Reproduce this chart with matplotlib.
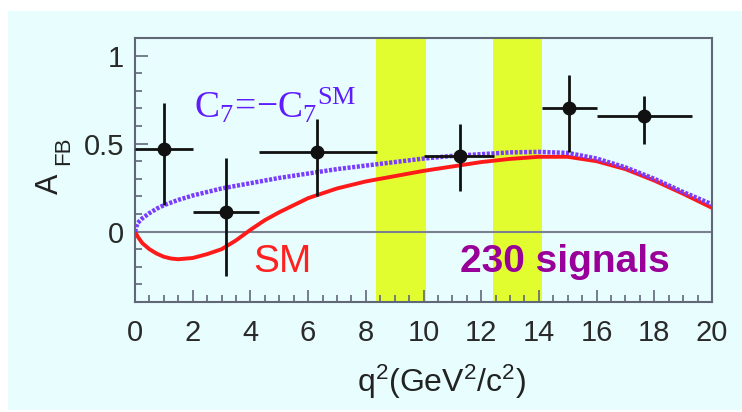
import numpy as np
import matplotlib.pyplot as plt
from matplotlib.patches import Rectangle
from matplotlib.ticker import MultipleLocator

plt.rcParams['mathtext.fontset'] = 'custom'
plt.rcParams['mathtext.rm'] = 'Liberation Serif'
plt.rcParams['mathtext.it'] = 'Liberation Serif:italic'
plt.rcParams['mathtext.sf'] = 'Liberation Sans'
plt.rcParams['font.family'] = ['Liberation Sans', 'DejaVu Sans']

# measured points
q2 = [1.0, 3.15, 6.3, 11.25, 15.05, 17.65]
q2_lo = [0.0, 2.0, 4.3, 10.0, 14.1, 16.0]
q2_hi = [2.0, 4.3, 8.4, 12.45, 16.0, 19.3]
afb = [0.47, 0.11, 0.45, 0.43, 0.70, 0.655]
afb_hi = [0.73, 0.42, 0.64, 0.61, 0.89, 0.77]
afb_lo = [0.15, -0.25, 0.20, 0.23, 0.45, 0.50]

# SM curve
sm_q2 = [0, 0.1, 0.25, 0.5, 0.75, 1, 1.25, 1.5, 2, 2.5, 3, 3.5, 4, 4.5, 5, 5.5, 6, 7, 8,
         9, 10, 11, 12, 13, 14, 15, 16, 17, 18, 19, 20]
sm_afb = [0, -0.03, -0.065, -0.1, -0.125, -0.143, -0.153, -0.157, -0.15, -0.128, -0.1,
          -0.05, 0.01, 0.065, 0.11, 0.15, 0.19, 0.245, 0.285, 0.315, 0.345, 0.37, 0.395,
          0.413, 0.425, 0.425, 0.40, 0.355, 0.29, 0.215, 0.135]

# C7 = -C7(SM) curve
c7_q2 = [0, 0.05, 0.1, 0.25, 0.5, 0.75, 1, 1.5, 2, 3, 4, 5, 6, 7, 8, 9, 10, 11, 12, 13,
         14, 15, 16, 17, 18, 19, 20]
c7_afb = [0, 0.03, 0.05, 0.075, 0.105, 0.13, 0.15, 0.18, 0.205, 0.245, 0.275, 0.305,
          0.33, 0.355, 0.375, 0.395, 0.415, 0.43, 0.44, 0.45, 0.453, 0.447, 0.415, 0.365,
          0.30, 0.225, 0.155]

# vetoed regions
vetoes = [(8.35, 10.1), (12.4, 14.1)]

bg = '#e8fdfd'
fig = plt.figure(figsize=(7.42, 4.12), dpi=100)
fig.patches.append(Rectangle((8 / 742, 0.005), 1.0, 0.968, transform=fig.transFigure,
                             facecolor=bg, edgecolor='none', zorder=-10))
ax = fig.add_axes([135 / 742, 1 - 302 / 412, 577 / 742, 264 / 412])
ax.set_facecolor(bg)

for a, b in vetoes:
    ax.axvspan(a, b, color='#e1fd30', lw=0, zorder=1)
ax.axhline(0, color='#7a8090', lw=1.5, zorder=2)

ax.plot(sm_q2, sm_afb, color='#ff1a1a', lw=2.8, zorder=3)
ax.plot(c7_q2, c7_afb, color='#7a3cff', lw=3.2, ls=(0, (0.7, 0.35)), zorder=4)

xerr = [np.subtract(q2, q2_lo), np.subtract(q2_hi, q2)]
yerr = [np.subtract(afb, afb_lo), np.subtract(afb_hi, afb)]
ax.errorbar(q2, afb, xerr=xerr, yerr=yerr, fmt='o', color='#111111', ms=9,
            elinewidth=2, capsize=0, zorder=5)

ax.set_xlim(0, 20)
ax.set_ylim(-0.4, 1.1)
ax.xaxis.set_major_locator(MultipleLocator(2))
ax.xaxis.set_minor_locator(MultipleLocator(0.5))
ax.set_yticks([0, 0.5, 1])
ax.set_yticklabels(['0', '0.5', '1'])
ax.yaxis.set_minor_locator(MultipleLocator(0.1))
ax.tick_params(which='both', direction='in', color='#606878', width=1.2,
               labelcolor='#2a2a2a')
ax.tick_params(which='major', length=9, labelsize=21)
ax.tick_params(which='minor', length=5)
ax.tick_params(axis='x', pad=12)
ax.tick_params(axis='y', pad=8)
for s in ax.spines.values():
    s.set_color('#606878')
    s.set_linewidth(1.5)

ax.text(2.05, 0.715, r'$\mathrm{C_7\!=\!{-}C_7{}^{SM}}$', color='#5f1cff', fontsize=27,
        ha='left', va='center', zorder=6)
ax.text(5.1, -0.175, 'SM', color='#ff2020', fontsize=28,
        ha='center', va='center', zorder=6)
ax.text(14.9, -0.175, '230 signals', color='#990099', fontsize=28,
        fontweight='bold', ha='center', va='center', zorder=6)

fig.text(441 / 742, 1 - 382 / 412, r'$\mathsf{q^2(GeV^2/c^2)}$',
         fontsize=23, color='#222222', ha='center', va='center')
fig.text(50 / 742, 1 - 184 / 412, 'A', fontsize=22, color='#222222',
         rotation=90, ha='center', va='center')
fig.text(64 / 742, 1 - 151 / 412, 'FB', fontsize=16, color='#222222',
         rotation=90, ha='center', va='center')

fig.savefig('out.png', dpi=100)
